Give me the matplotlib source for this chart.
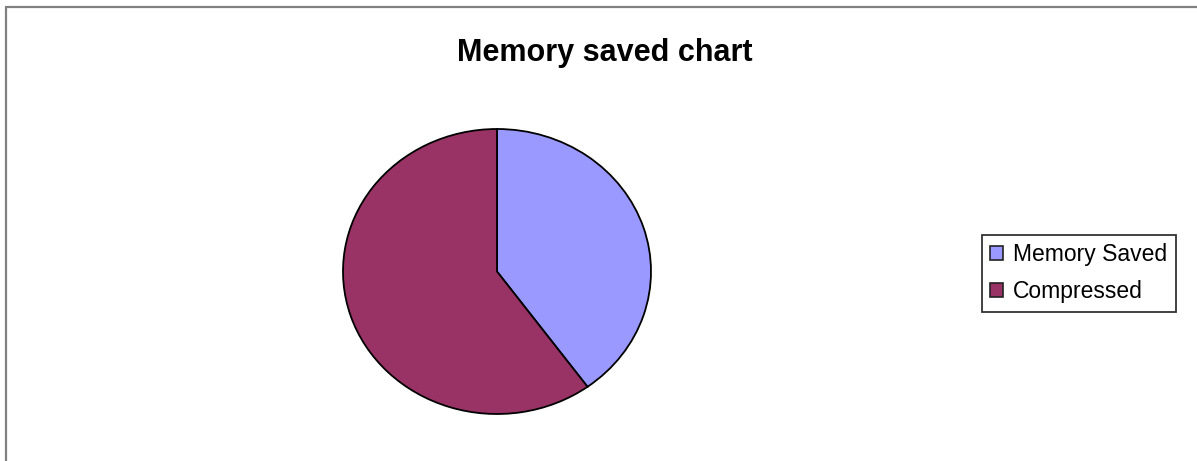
import matplotlib
matplotlib.use("Agg")
import matplotlib.pyplot as plt
from matplotlib.patches import Patch
from matplotlib.lines import Line2D

plt.rcParams['font.family'] = ['Liberation Sans', 'DejaVu Sans']

labels = ["Memory Saved", "Compressed"]
values = [40, 60]
colors = ["#9999FF", "#993366"]
title = "Memory saved chart"

W, H = 1197, 461
fig = plt.figure(figsize=(W / 100, H / 100), dpi=100)

# outer chart frame (only left and top edges visible)
frame_col = "#808080"
fig.add_artist(Line2D([6 / W, 6 / W], [0, 1 - 7 / H], transform=fig.transFigure,
                      color=frame_col, lw=1.6, solid_capstyle='butt'))
fig.add_artist(Line2D([5 / W, 1], [1 - 7 / H, 1 - 7 / H], transform=fig.transFigure,
                      color=frame_col, lw=1.6, solid_capstyle='butt'))

# pie area (slightly elliptical like the original)
left, right, top, bottom = 343, 651, 129, 414
ax = fig.add_axes([left / W, 1 - bottom / H, (right - left) / W, (bottom - top) / H])
ax.pie(values, colors=colors, startangle=90, counterclock=False,
       wedgeprops=dict(edgecolor="black", linewidth=1.3))
ax.set_aspect('auto')
ax.set_xlim(-1, 1)
ax.set_ylim(-1, 1)
ax.axis('off')

fig.text(605 / W, 1 - 61 / H, title, ha='center', va='baseline',
         fontsize=22, fontweight='bold')

handles = [Patch(facecolor=c, edgecolor='#222222', linewidth=1.2) for c in colors]
leg = fig.legend(handles, labels, loc='upper left',
                 bbox_to_anchor=(982 / W, 1 - 235 / H), borderaxespad=0,
                 fontsize=16.5, frameon=True, fancybox=False, shadow=False,
                 handlelength=0.55, handleheight=0.55, handletextpad=0.45,
                 labelspacing=0.62, borderpad=0.36)
leg.get_frame().set_edgecolor('black')
leg.get_frame().set_linewidth(1.3)

fig.savefig("out.png", dpi=100)
